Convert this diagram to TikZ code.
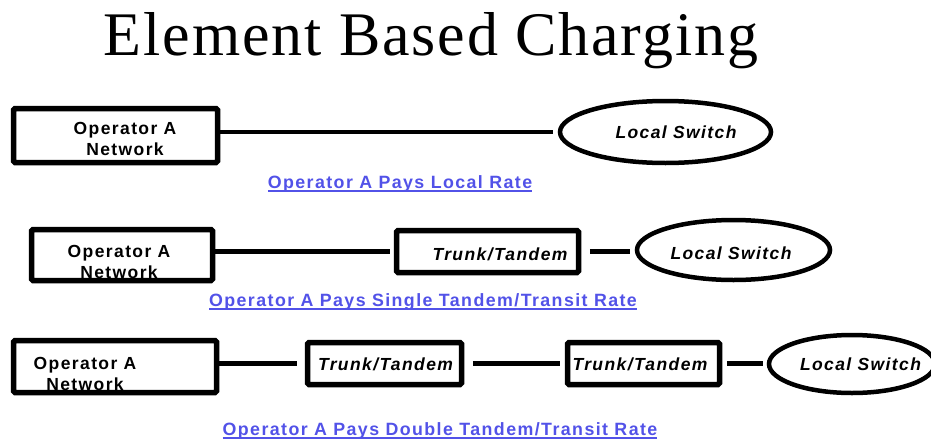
\documentclass[tikz,border=0pt]{standalone}
\usepackage{fontspec}
\usetikzlibrary{shapes.geometric,positioning}
\setmainfont{Liberation Sans}
\newfontfamily\titlefont{Liberation Serif}[LetterSpace=3]
\newfontfamily\boxfont{Liberation Sans}[LetterSpace=8]
\definecolor{linkblue}{RGB}{82,82,232}
\newsavebox\ratebox
\newcommand\ulabel[1]{\sbox\ratebox{#1}\rlap{\rule[-4pt]{\wd\ratebox}{2.5pt}}\usebox\ratebox}
\tikzset{
    netbox/.style={
        rectangle,
        draw=black,
        line width=5.5pt,
        rounded corners=1.5pt,
        inner sep=0pt,
    },
    switch/.style={
        ellipse,
        draw=black,
        line width=4.5pt,
        inner sep=0pt,
    },
    boxtext/.style={
        font=\boxfont\bfseries\fontsize{17.5}{21}\selectfont,
        align=center,
        inner sep=0pt,
        anchor=base,
    },
    swtext/.style={
        boxtext,
        font=\boxfont\bfseries\itshape\fontsize{17.5}{21}\selectfont,
    },
    rate/.style={
        boxtext,
        font=\boxfont\bfseries\fontsize{17.8}{21}\selectfont,
        text=linkblue,
    },
    link/.style={
        draw,
        line width=4.5pt,
    },
  }

\begin{document}
\begin{tikzpicture}[x=1pt,y=-1pt]
              \useasboundingbox (0,0) rectangle (931,439);
              \node [anchor=base,inner sep=0pt,font=\titlefont\fontsize{62}{70}\selectfont] (title) at (431,55) {Element Based Charging};

              % texts first, the borders go over them
              \node [boxtext] (tnet1) at (125,155) {Operator A\\Network};
              \node [swtext] (tls1) at (676,138) {Local Switch};
              \node [boxtext] (tnet2) at (119,278) {Operator A\\Network};
              \node [swtext] (ttr2) at (500,260) {Trunk/Tandem};
              \node [swtext] (tls2) at (731,259) {Local Switch};
              \node [boxtext] (tnet3) at (85,390) {Operator A\\Network};
              \node [swtext] (ttr3a) at (385.5,370) {Trunk/Tandem};
              \node [swtext] (ttr3b) at (640,370) {Trunk/Tandem};
              \node [swtext] (tls3) at (860.5,370) {Local Switch};

              % row 1
              \node [netbox,minimum width=204pt,minimum height=54pt] (net1) at (115.5,135.5) {};
              \node [switch,minimum width=211pt,minimum height=62pt] (ls1) at (665.5,132) {};
              \draw [link,shorten >=5pt] (net1.east |- ls1.west) -- (ls1.west);
              \node [rate] (rate1) at (400,188) {\ulabel{Operator A Pays Local Rate}};

              % row 2
              \node [netbox,minimum width=181pt,minimum height=51pt] (net2) at (122,255) {};
              \node [netbox,minimum width=182pt,minimum height=42pt] (tr2) at (487.5,251.5) {};
              \node [switch,minimum width=193pt,minimum height=60pt] (ls2) at (733.5,250) {};
              \draw [link,shorten >=3.5pt] (net2.east |- tr2.west) -- (tr2.west);
              \draw [link,shorten <=8.5pt,shorten >=5pt] (tr2.east) -- (tr2.east -| ls2.west);
              \node [rate] (rate2) at (423,306) {\ulabel{Operator A Pays Single Tandem/Transit Rate}};

              % row 3
              \node [netbox,minimum width=203pt,minimum height=52pt] (net3) at (115,366.5) {};
              \node [netbox,minimum width=154pt,minimum height=42pt] (tr3a) at (384.5,363.5) {};
              \node [netbox,minimum width=152pt,minimum height=42pt] (tr3b) at (643.5,363.5) {};
              \node [switch,minimum width=166pt,minimum height=58pt] (ls3) at (852,364) {};
              \draw [link,shorten >=7.5pt] (net3.east |- tr3a.west) -- (tr3a.west);
              \draw [link,shorten <=8.5pt,shorten >=4.5pt] (tr3a.east) -- (tr3b.west);
              \draw [link,shorten <=4.5pt,shorten >=4pt] (tr3b.east) -- (tr3b.east -| ls3.west);
              \node [rate] (rate3) at (440,435) {\ulabel{Operator A Pays Double Tandem/Transit Rate}};
            \end{tikzpicture}
\end{document}
